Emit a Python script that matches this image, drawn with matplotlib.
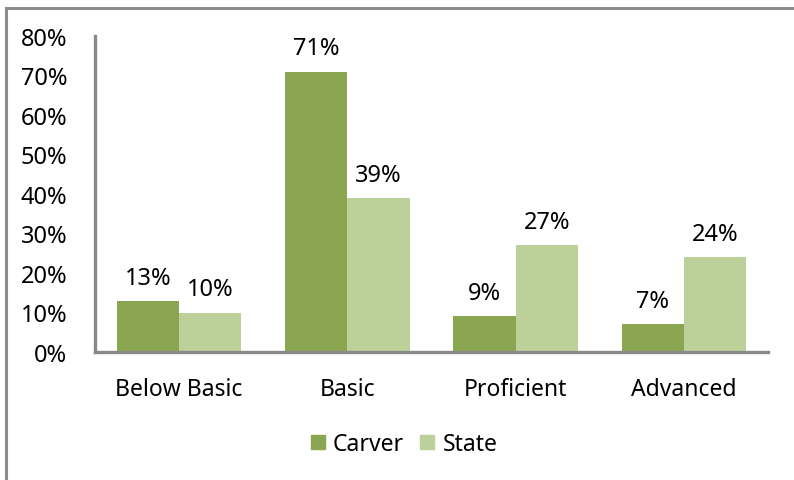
import matplotlib.pyplot as plt
from matplotlib.patches import Rectangle, Patch
import numpy as np

categories = ["Below Basic", "Basic", "Proficient", "Advanced"]
carver = [13, 71, 9, 7]
state = [10, 39, 27, 24]
series_names = ["Carver", "State"]

plt.rcParams['font.family'] = ['Noto Sans', 'DejaVu Sans']

fig = plt.figure(figsize=(7.94, 4.81), dpi=100)
ax = fig.add_axes([95/794, 1-353/481, 673/794, 316/481])

# grey frame, only top and left edges show in the reference
fig.patches.append(Rectangle((6/794, -0.1), 1.2, (1-9/481)+0.1, transform=fig.transFigure,
                             fill=False, edgecolor='#8c8c8c', linewidth=2.2))

x = np.arange(len(categories))
w = 0.37
c1 = '#8BA651'
c2 = '#BCD19A'
b1 = ax.bar(x - w/2, carver, w, color=c1, label=series_names[0])
b2 = ax.bar(x + w/2, state, w, color=c2, label=series_names[1])

for bars, vals in ((b1, carver), (b2, state)):
    for b, v in zip(bars, vals):
        ax.annotate("{}%".format(v), (b.get_x() + b.get_width()/2, v),
                    xytext=(0, 8), textcoords='offset points',
                    ha='center', va='bottom', fontsize=17)

ax.set_xlim(-0.5, 3.5)
ax.set_ylim(0, 80)
ax.set_yticks(range(0, 81, 10))
ax.set_yticklabels(["{}%".format(t) for t in range(0, 81, 10)])
ax.set_xticks(x)
ax.set_xticklabels(categories)
ax.tick_params(axis='y', length=0, pad=20, labelsize=17)
ax.tick_params(axis='x', length=0, pad=18, labelsize=16.5)

for s in ['top', 'right']:
    ax.spines[s].set_visible(False)
for s in ['left', 'bottom']:
    ax.spines[s].set_color('#898989')
    ax.spines[s].set_linewidth(2.4)

fig.legend(handles=[Patch(color=c1, label='Carver'), Patch(color=c2, label='State')],
           loc='center', bbox_to_anchor=(404/794, 1-445/481), ncol=2, frameon=False,
           fontsize=16.5, handlelength=0.62, handleheight=0.62, columnspacing=0.7,
           handletextpad=0.35)

fig.savefig('out.png', dpi=100)
